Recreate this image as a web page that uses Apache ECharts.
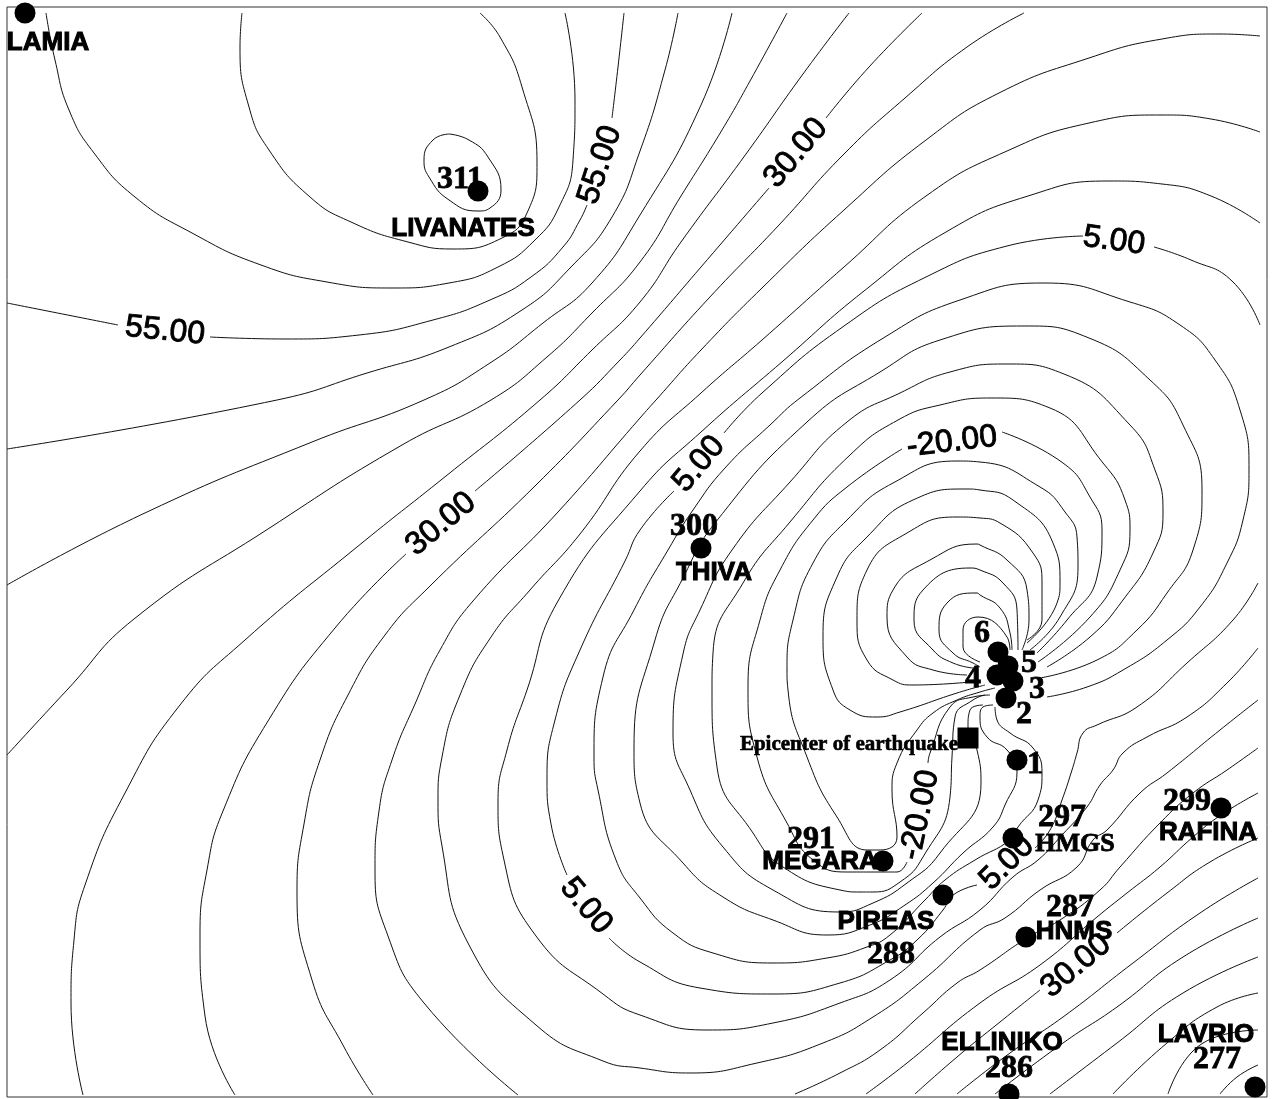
<!DOCTYPE html>
<html><head><meta charset="utf-8">
<style>html,body{margin:0;padding:0;background:#fff}#c{width:1274px;height:1099px}</style>
<script src="https://cdn.jsdelivr.net/npm/echarts@6/dist/echarts.min.js"></script></head>
<body><div id="c"></div>
<script>
const _ = null;
// Contour lines, [easting, northing] in map units; null = gap under a contour label
const c70 = [[449,134],[469,140],[488,157],[501,190],[490,208],[478,211],[449,200],[429,177],[424,160],[433,140],[449,134]];
const c65 = [[242,13],[240,47],[249,107],[269,150],[310,197],[351,222],[408,242],[453,249],[502,238],[527,213],[537,163],[522,87],[500,37],[480,13]];
const c60 = [[46,13],[55,60],[69,110],[94,153],[135,197],[192,233],[261,265],[327,282],[392,288],[449,283],[498,267],[535,240],[559,207],[573,160],[575,100],[565,13]];
const c55 = [[7,303],[118,325],_,[210,337],[286,339],[359,335],[433,320],[490,300],[531,277],[563,247],[580,220],[587,205],_,[612,118],[618,67],[624,13]];
const c50 = [[7,449],[277,400],[367,373],[449,347],[522,310],[571,267],[612,217],[640,151],[665,70],[678,13]];
const c45 = [[7,585],[147,512],[312,442],[424,400],[490,363],[543,323],[592,283],[640,215],[701,105],[732,13]];
const c40 = [[7,755],[67,690],[134,619],[268,529],[402,445],[491,400],[547,357],[592,313],[640,262],[681,196],[722,130],[750,81],[787,13]];
const c35 = [[83,1095],[71,1003],[74,940],[85,885],[125,793],[180,705],[245,640],[357,547],[446,476],[540,400],[592,350],[640,302],[681,242],[746,154],[803,74],[849,13]];
const c30 = [[235,1095],[205,1016],[200,936],[207,870],[223,811],[268,721],[335,628],[406,554],_,[475,491],[580,400],[620,360],[640,338],[701,267],[769,188],_,[826,118],[869,67],[922,13]];
const c25 = [[373,1095],[344,1047],[312,980],[297,891],[304,824],[320,760],[348,695],[385,635],[429,587],[536,485],[618,400],[640,375],[709,298],[779,225],[844,154],[905,98],[967,47],[1024,13]];
const c20 = [[518,1095],[424,1003],[388,936],[375,869],[379,811],[392,760],[415,704],[440,650],[473,601],[558,512],[640,418],[656,400],[701,350],[762,288],[844,210],[926,140],[999,93],[1089,58],[1162,39],[1220,34],[1260,36]];
const c15 = [[1260,132],[1211,119],[1162,115],[1089,123],[1007,151],[926,196],[844,267],[762,340],[701,393],[640,451],[580,534],[530,590],[491,637],[460,695],[442,757],[438,800],[442,846],[469,945],[536,1025],[603,1061],[640,1068],[690,1073],[757,1063],[823,1043],[873,1017],[923,980],[980,930],[1005,918],[1040,890],[1077,867],[1093,840],[1107,830],[1140,793],[1167,773],[1220,730],[1258,700]];
const c10 = [[1260,223],[1211,196],[1162,184],[1109,181],[1028,196],[946,232],[864,291],[783,361],[701,432],[640,491],[558,601],[527,690],[507,750],[498,802],[504,860],[536,936],[603,994],[640,1015],[707,1030],[773,1023],[840,1003],[890,980],[940,937],[980,910],[1013,877],[1038,860],[1062,835],[1087,807],[1100,785],[1113,770],[1123,753],[1147,737],[1187,717],[1227,683],[1258,648]];
const c05 = [[1260,325],[1232,281],[1191,260],[1154,247],_,[1083,236],[1007,246],[926,277],[844,326],[762,393],[724,433],_,[674,491],[640,530],[625,561],[580,650],[555,720],[547,779],[551,824],[567,875],_,[609,938],[640,962],[700,988],[773,994],[840,983],[890,960],[917,940],[943,910],[953,895],[977,885],_,[1035,848],[1050,830],[1062,800],[1072,770],[1077,753],[1083,733],[1097,725],[1137,707],[1187,663],[1233,620],[1258,583]];
const c00 = [[1047,697],[1087,687],[1123,670],[1167,640],[1200,607],[1227,563],[1243,520],[1249,470],[1240,410],[1215,360],[1180,325],[1130,302],[1044,283],[960,300],[885,337],[800,398],[770,425],[725,468],[693,510],[668,550],[634,610],[603,677],[594,757],[598,790],[616,860],[640,898],[673,933],[713,953],[773,963],[827,958],[867,947],[890,935],[925,900],[945,880],[975,860],[1010,840],[1018,827],[1038,800],[1042,773],[1033,748],[1010,733],[997,720],[995,707]];
const cm05 = [[1040,678],[1097,660],[1137,630],[1167,593],[1193,550],[1202,490],[1183,425],[1150,380],[1089,338],[1024,326],[940,340],[880,372],[807,422],[715,523],[683,578],[655,640],[634,748],[640,803],[683,863],[723,897],[773,920],[827,935],[870,925],[905,905],[933,883],[963,853],[993,827],[1005,805],[1017,772],[1007,750],[987,737],[980,717],[983,707],[993,705]];
const cm10 = [[1047,667],[1090,637],[1123,600],[1153,553],[1163,513],[1155,470],[1130,425],[1064,374],[1007,364],[950,372],[900,393],[847,422],[790,482],[732,550],[700,610],[683,654],[673,733],[690,790],[723,847],[773,890],[840,912],[873,903],[907,883],[940,853],[981,783],[977,750],[968,727],[970,710],[983,705]];
const cm15 = [[1038,662],[1090,617],[1120,570],[1130,530],[1125,500],[1103,463],[1050,408],[991,398],[940,405],[898,420],[850,455],[790,522],[743,583],[713,653],[712,690],[717,767],[753,833],[783,867],[840,890],[860,892],[873,892],[900,882],[923,857],[950,797],[952,757],[955,717],[973,700],[985,695]];
const cm20 = [[1037,653],[1067,620],[1097,577],[1102,530],[1090,497],[1063,463],[1002,432],_,[902,449],[847,487],[813,520],[780,570],[760,620],[748,687],[757,757],[787,823],[813,860],[847,872],[880,872],[897,872],[907,862],_,[928,763],[930,753],[950,707],[973,697],[990,695]];
const cm25 = [[1030,650],[1060,617],[1078,567],[1077,537],[1065,512],[1040,487],[980,462],[957,461],[893,483],[847,520],[813,563],[793,620],[787,670],[788,690],[807,757],[837,817],[867,850],[880,850],[897,837],[892,790],[897,763],[917,730],[933,713],[957,700],[980,692],[995,688]];
const cm30 = [[1027,643],[1057,603],[1060,583],[1053,543],[1013,500],[980,490],[967,489],[913,500],[867,537],[837,577],[823,637],[833,690],[850,710],[877,717],[900,712],[957,693],[985,685]];
const cm35 = [[1027,640],[1042,620],[1042,583],[1033,553],[1000,523],[980,518],[957,517],[907,533],[867,570],[857,620],[867,660],[893,680],[913,685],[970,682]];
const cm40 = [[1022,650],[1029,620],[1027,590],[1007,560],[980,545],[977,544],[930,560],[893,590],[887,617],[907,657],[933,670],[967,675]];
const cm45 = [[1018,650],[1017,610],[1003,583],[980,570],[970,568],[923,590],[914,620],[933,650],[953,663],[973,668]];
const cm50 = [[1012,650],[1010,633],[1000,608],[980,595],[977,593],[947,603],[939,630],[953,653],[973,663],[980,667]];
const cm55 = [[1010,650],[1007,637],[978,617],[963,630],[963,647],[980,662]];
const se20 = [[795,1094],[840,1073],[880,1050],[923,1013],[957,983],[980,970],[1027,938],[1060,920],[1100,890],[1120,867],[1160,823],[1193,793],[1227,770],[1258,748]];
const se25 = [[866,1094],[907,1063],[980,1003],[1040,965],[1097,917],[1127,893],[1160,867],[1193,837],[1221,815],[1258,793]];
const se30 = [[915,1094],[957,1057],[1000,1022],[1040,990],_,[1117,933],[1167,893],[1210,862],[1258,838]];
const se35 = [[957,1094],[1010,1053],[1063,1017],[1133,963],[1200,913],[1258,878]];
const se40 = [[995,1094],[1063,1043],[1117,1007],[1183,957],[1258,918]];
const se45 = [[1050,1094],[1117,1043],[1183,993],[1258,957]];
const se50 = [[1113,1094],[1167,1043],[1217,1007],[1258,993]];
const se55 = [[1168,1094],[1203,1043],[1258,1030]];
const se60 = [[1220,1094],[1237,1077],[1258,1065]];
const contours = [c70,c65,c60,c55,c50,c45,c40,c35,c30,c25,c20,c15,c10,c05,c00,cm05,cm10,cm15,cm20,cm25,cm30,cm35,cm40,cm45,cm50,cm55,se20,se25,se30,se35,se40,se45,se50,se55,se60];

// Stations
const stationNames = ['LAMIA','LIVANATES','THIVA','6','5','3','4','2','1','MEGARA','HMGS','PIREAS','HNMS','RAFINA','ELLINIKO','LAVRIO'];
const stationPoints = [[25,13],[478,191],[701,548],[998,652],[1008,666],[1013,681],[997,675],[1006,698],[1017,760],[883,861],[1013,838],[943,895],[1026,937],[1221,808],[1009,1094],[1255,1087]];
const epicenter = [[968,738]];

// Contour labels: text, position, text angle
const contourLabelText = ['55.00','55.00','30.00','5.00','-20.00','5.00','30.00','5.00','-20.00','5.00','30.00'];
const contourLabelPos = [[165,331],[600,165],[796,153],[1114,241],[952,442],[699,464],[441,524],[586,906],[920,815],[1007,863],[1076,966]];
const contourLabelAngle = [-6,72,50,-8,7,50,40,-50,78,45,40];

// Station captions
const sansText = ['LAMIA','LIVANATES','THIVA','MEGARA','RAFINA','PIREAS','HNMS','ELLINIKO','LAVRIO'];
const sansPos = [[48,43],[463,229],[714,573],[820,862],[1208,833],[886,922],[1074,932],[1002,1043],[1206,1035]];
const serifText = ['311','300','6','5','3','4','2','1','291','297','299','288','287','286','277'];
const serifPos = [[460,180],[694,527],[982,634],[1029,664],[1037,690],[973,679],[1024,715],[1035,765],[811,840],[1062,818],[1187,802],[891,955],[1070,908],[1009,1069],[1217,1060]];
const hmgsText = ['HMGS'];
const hmgsPos = [[1075,844]];
const epicenterText = ['Epicenter of earthquake'];
const epicenterPos = [[849,745]];

function textSeries(texts, pos, angles, font, size, weight, border){
  return {type:'scatter',silent:true,clip:false,symbolSize:0,z:6,itemStyle:{opacity:1},
    data:texts.map((t,i)=>({value:pos[i],name:t,label:{rotate:angles?angles[i]:0}})),
    label:{show:true,position:'inside',align:'center',verticalAlign:'middle',formatter:p=>p.name,opacity:1,
      fontFamily:font,fontSize:size,fontWeight:weight,color:'#000',textBorderColor:'#000',textBorderWidth:border}};
}
const series = contours.map((pts,i)=>({type:'line',silent:true,symbol:'none',smooth:0.5,connectNulls:false,z:2,
  lineStyle:{color:'#111',width:1},data:pts.map(p=>p===null?['-','-']:p)}));
series.push({type:'scatter',silent:true,clip:false,symbol:'circle',symbolSize:21,z:5,itemStyle:{color:'#000',opacity:1},
  data:stationPoints.map((p,i)=>({value:p,name:stationNames[i]}))});
series.push({type:'scatter',silent:true,clip:false,symbol:'rect',symbolSize:21,z:5,itemStyle:{color:'#000',opacity:1},data:epicenter});
series.push(textSeries(contourLabelText,contourLabelPos,contourLabelAngle,'Liberation Sans',32,'normal',0.9));
series.push(textSeries(sansText,sansPos,null,'Liberation Sans',26,'bold',1));
series.push(textSeries(serifText,serifPos,null,'Liberation Serif',32,'bold',0.8));
series.push(textSeries(hmgsText,hmgsPos,null,'Liberation Serif',26,'bold',0.8));
series.push(textSeries(epicenterText,epicenterPos,null,'Liberation Serif',21,'bold',0.6));

const chart = echarts.init(document.getElementById('c'),null,{renderer:'canvas'});
chart.setOption({animation:false,backgroundColor:'#fff',
  grid:{left:7,right:7,top:7,bottom:2,show:true,borderColor:'#333',borderWidth:1,backgroundColor:'transparent'},
  xAxis:{type:'value',min:7,max:1267,show:false},
  yAxis:{type:'value',min:7,max:1097,inverse:true,show:false},
  series});
</script></body></html>
